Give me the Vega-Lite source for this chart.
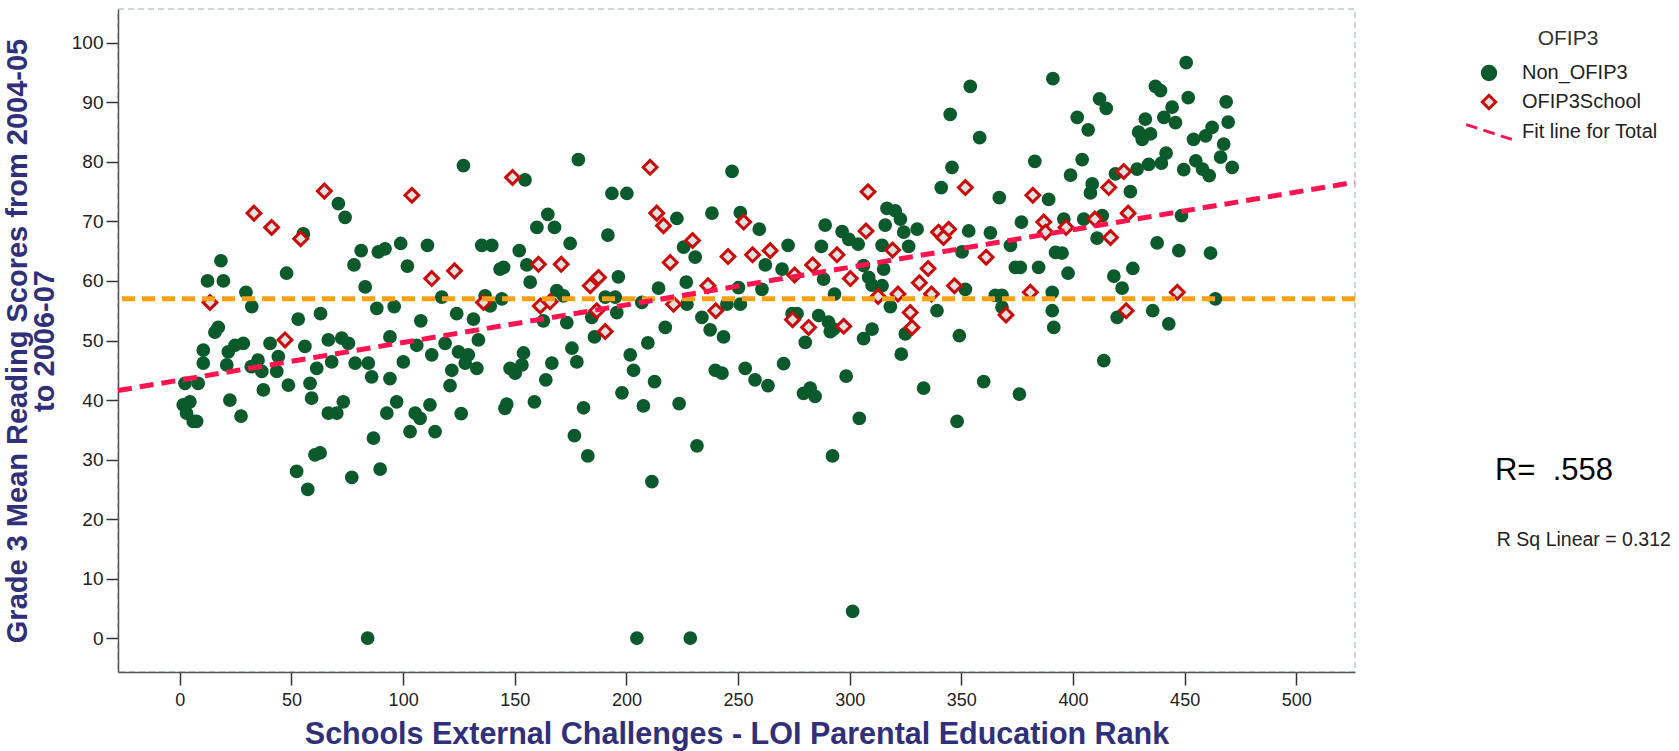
{
  "$schema": "https://vega.github.io/schema/vega-lite/v6.json",
  "width": 1237,
  "height": 663,
  "autosize": {"type": "none"},
  "padding": {"left": 118, "top": 9, "right": 324, "bottom": 79},
  "background": "white",
  "config": {
    "font": "Liberation Sans",
    "view": {"stroke": "#b5cdc4", "strokeDash": [6, 4], "strokeWidth": 1.5},
    "legend": {
      "orient": "none",
      "legendX": 1361,
      "legendY": 19,
      "titleFontSize": 21,
      "titleFontWeight": "normal",
      "titleColor": "#333333",
      "titleAnchor": "middle",
      "titlePadding": 14,
      "labelFontSize": 20,
      "labelColor": "#222222",
      "symbolSize": 180,
      "symbolStrokeWidth": 3,
      "labelOffset": 23,
      "rowPadding": 3,
      "padding": 0
    }
  },
  "datasets": {
    "pts": [
      {"rank":18.4,"score":63.4,"group":"Non_OFIP3"},{"rank":12.4,"score":60,"group":"Non_OFIP3"},{"rank":19.5,"score":60,"group":"Non_OFIP3"},{"rank":29.6,"score":58.1,"group":"Non_OFIP3"},{"rank":32.2,"score":55.7,"group":"Non_OFIP3"},{"rank":47.8,"score":61.3,"group":"Non_OFIP3"},{"rank":53,"score":53.6,"group":"Non_OFIP3"},{"rank":63,"score":54.5,"group":"Non_OFIP3"},{"rank":71,"score":73,"group":"Non_OFIP3"},{"rank":74,"score":70.7,"group":"Non_OFIP3"},{"rank":81.2,"score":65.1,"group":"Non_OFIP3"},{"rank":78,"score":62.7,"group":"Non_OFIP3"},{"rank":88.9,"score":64.9,"group":"Non_OFIP3"},{"rank":91.9,"score":65.4,"group":"Non_OFIP3"},{"rank":98.9,"score":66.3,"group":"Non_OFIP3"},{"rank":101.9,"score":62.5,"group":"Non_OFIP3"},{"rank":110.9,"score":66,"group":"Non_OFIP3"},{"rank":83,"score":59,"group":"Non_OFIP3"},{"rank":88.2,"score":55.4,"group":"Non_OFIP3"},{"rank":96,"score":55.7,"group":"Non_OFIP3"},{"rank":107.9,"score":53.3,"group":"Non_OFIP3"},{"rank":55.3,"score":67.9,"group":"Non_OFIP3"},{"rank":15.7,"score":51.4,"group":"Non_OFIP3"},{"rank":17.2,"score":52.2,"group":"Non_OFIP3"},
      {"rank":10.5,"score":48.4,"group":"Non_OFIP3"},{"rank":10.5,"score":46.2,"group":"Non_OFIP3"},{"rank":2.3,"score":42.8,"group":"Non_OFIP3"},{"rank":8.2,"score":42.8,"group":"Non_OFIP3"},{"rank":1.5,"score":39.2,"group":"Non_OFIP3"},{"rank":4.5,"score":39.7,"group":"Non_OFIP3"},{"rank":3,"score":37.8,"group":"Non_OFIP3"},{"rank":6,"score":36.4,"group":"Non_OFIP3"},{"rank":7.5,"score":36.4,"group":"Non_OFIP3"},{"rank":21.7,"score":48.1,"group":"Non_OFIP3"},{"rank":24.7,"score":49.2,"group":"Non_OFIP3"},{"rank":28.4,"score":49.5,"group":"Non_OFIP3"},{"rank":21,"score":45.9,"group":"Non_OFIP3"},{"rank":22.4,"score":40,"group":"Non_OFIP3"},{"rank":27.4,"score":37.3,"group":"Non_OFIP3"},{"rank":35,"score":46.7,"group":"Non_OFIP3"},{"rank":32,"score":45.6,"group":"Non_OFIP3"},{"rank":36.7,"score":44.8,"group":"Non_OFIP3"},{"rank":43.4,"score":44.8,"group":"Non_OFIP3"},{"rank":37.4,"score":41.7,"group":"Non_OFIP3"},{"rank":40.4,"score":49.5,"group":"Non_OFIP3"},{"rank":44.1,"score":47.3,"group":"Non_OFIP3"},{"rank":48.6,"score":42.5,"group":"Non_OFIP3"},{"rank":56,"score":49,"group":"Non_OFIP3"},{"rank":58.3,"score":42.8,"group":"Non_OFIP3"},{"rank":59,"score":40.3,"group":"Non_OFIP3"},{"rank":61.3,"score":45.3,"group":"Non_OFIP3"},{"rank":66.5,"score":50.1,"group":"Non_OFIP3"},{"rank":72.5,"score":50.4,"group":"Non_OFIP3"},{"rank":75.5,"score":49.5,"group":"Non_OFIP3"},{"rank":68,"score":46.4,"group":"Non_OFIP3"},{"rank":78.5,"score":46.2,"group":"Non_OFIP3"},{"rank":84.4,"score":46.2,"group":"Non_OFIP3"},{"rank":85.9,"score":43.9,"group":"Non_OFIP3"},{"rank":94.1,"score":50.6,"group":"Non_OFIP3"},{"rank":94.1,"score":43.6,"group":"Non_OFIP3"},{"rank":100.1,"score":46.4,"group":"Non_OFIP3"},{"rank":106.1,"score":49.2,"group":"Non_OFIP3"},{"rank":112.8,"score":47.6,"group":"Non_OFIP3"},{"rank":73.2,"score":39.7,"group":"Non_OFIP3"},{"rank":66.5,"score":37.8,"group":"Non_OFIP3"},{"rank":70.3,"score":37.8,"group":"Non_OFIP3"},{"rank":97.1,"score":39.7,"group":"Non_OFIP3"},{"rank":92.7,"score":37.8,"group":"Non_OFIP3"},{"rank":105.4,"score":37.8,"group":"Non_OFIP3"},{"rank":107.6,"score":36.9,"group":"Non_OFIP3"},{"rank":112,"score":39.2,"group":"Non_OFIP3"},{"rank":103.1,"score":34.7,"group":"Non_OFIP3"},{"rank":114.3,"score":34.7,"group":"Non_OFIP3"},{"rank":86.7,"score":33.6,"group":"Non_OFIP3"},{"rank":60.5,"score":30.8,"group":"Non_OFIP3"},{"rank":62.8,"score":31.1,"group":"Non_OFIP3"},{"rank":52.3,"score":28,"group":"Non_OFIP3"},{"rank":57.3,"score":25,"group":"Non_OFIP3"},{"rank":77,"score":27,"group":"Non_OFIP3"},{"rank":89.7,"score":28.4,"group":"Non_OFIP3"},{"rank":84.1,"score":0,"group":"Non_OFIP3"},
      {"rank":127,"score":79.4,"group":"Non_OFIP3"},{"rank":154.6,"score":77,"group":"Non_OFIP3"},{"rank":178.5,"score":80.4,"group":"Non_OFIP3"},{"rank":247.3,"score":78.4,"group":"Non_OFIP3"},{"rank":193.5,"score":74.7,"group":"Non_OFIP3"},{"rank":200.2,"score":74.7,"group":"Non_OFIP3"},{"rank":135.2,"score":66,"group":"Non_OFIP3"},{"rank":139.7,"score":66,"group":"Non_OFIP3"},{"rank":164.8,"score":71.2,"group":"Non_OFIP3"},{"rank":159.9,"score":69,"group":"Non_OFIP3"},{"rank":167.8,"score":69,"group":"Non_OFIP3"},{"rank":191.7,"score":67.7,"group":"Non_OFIP3"},{"rank":174.8,"score":66.3,"group":"Non_OFIP3"},{"rank":238.3,"score":71.4,"group":"Non_OFIP3"},{"rank":251,"score":71.5,"group":"Non_OFIP3"},{"rank":222.6,"score":70.5,"group":"Non_OFIP3"},{"rank":152,"score":65.1,"group":"Non_OFIP3"},{"rank":145,"score":62.3,"group":"Non_OFIP3"},{"rank":143.4,"score":62,"group":"Non_OFIP3"},{"rank":155.4,"score":62.7,"group":"Non_OFIP3"},{"rank":156.9,"score":59.8,"group":"Non_OFIP3"},{"rank":196.4,"score":60.7,"group":"Non_OFIP3"},{"rank":214.4,"score":58.8,"group":"Non_OFIP3"},{"rank":226.8,"score":59.8,"group":"Non_OFIP3"},{"rank":225.6,"score":65.7,"group":"Non_OFIP3"},{"rank":230.8,"score":64,"group":"Non_OFIP3"},{"rank":117.3,"score":57.3,"group":"Non_OFIP3"},{"rank":136.7,"score":57.5,"group":"Non_OFIP3"},{"rank":144.2,"score":57,"group":"Non_OFIP3"},{"rank":139,"score":55.8,"group":"Non_OFIP3"},{"rank":168.8,"score":58.4,"group":"Non_OFIP3"},{"rank":171.8,"score":57.5,"group":"Non_OFIP3"},{"rank":190.5,"score":57.3,"group":"Non_OFIP3"},{"rank":195,"score":57.3,"group":"Non_OFIP3"},{"rank":124,"score":54.5,"group":"Non_OFIP3"},{"rank":131.5,"score":53.6,"group":"Non_OFIP3"},{"rank":173.3,"score":53,"group":"Non_OFIP3"},{"rank":162.8,"score":53.3,"group":"Non_OFIP3"},{"rank":184.5,"score":53.9,"group":"Non_OFIP3"},{"rank":195.7,"score":54.7,"group":"Non_OFIP3"},{"rank":206.9,"score":56.4,"group":"Non_OFIP3"},{"rank":227.1,"score":56.1,"group":"Non_OFIP3"},{"rank":233.8,"score":53.9,"group":"Non_OFIP3"},{"rank":245,"score":56.1,"group":"Non_OFIP3"},{"rank":251,"score":56.1,"group":"Non_OFIP3"},{"rank":250.2,"score":58.9,"group":"Non_OFIP3"},
      {"rank":121.8,"score":45,"group":"Non_OFIP3"},{"rank":121,"score":42.4,"group":"Non_OFIP3"},{"rank":126,"score":37.7,"group":"Non_OFIP3"},{"rank":118.8,"score":49.5,"group":"Non_OFIP3"},{"rank":124.8,"score":48.1,"group":"Non_OFIP3"},{"rank":129.2,"score":47.6,"group":"Non_OFIP3"},{"rank":127.8,"score":46.2,"group":"Non_OFIP3"},{"rank":133,"score":45.3,"group":"Non_OFIP3"},{"rank":133.7,"score":50.1,"group":"Non_OFIP3"},{"rank":147.9,"score":45.3,"group":"Non_OFIP3"},{"rank":150.2,"score":44.5,"group":"Non_OFIP3"},{"rank":153.2,"score":45.9,"group":"Non_OFIP3"},{"rank":153.9,"score":47.9,"group":"Non_OFIP3"},{"rank":166.6,"score":46.2,"group":"Non_OFIP3"},{"rank":163.9,"score":43.4,"group":"Non_OFIP3"},{"rank":146.4,"score":39.3,"group":"Non_OFIP3"},{"rank":145.6,"score":38.6,"group":"Non_OFIP3"},{"rank":158.8,"score":39.7,"group":"Non_OFIP3"},{"rank":175.6,"score":48.7,"group":"Non_OFIP3"},{"rank":177.8,"score":46.4,"group":"Non_OFIP3"},{"rank":180.8,"score":38.7,"group":"Non_OFIP3"},{"rank":176.7,"score":34,"group":"Non_OFIP3"},{"rank":182.7,"score":30.6,"group":"Non_OFIP3"},{"rank":185.7,"score":50.6,"group":"Non_OFIP3"},{"rank":201.7,"score":47.6,"group":"Non_OFIP3"},{"rank":203.2,"score":45,"group":"Non_OFIP3"},{"rank":198,"score":41.2,"group":"Non_OFIP3"},{"rank":209.6,"score":49.6,"group":"Non_OFIP3"},{"rank":212.6,"score":43.1,"group":"Non_OFIP3"},{"rank":207.6,"score":39,"group":"Non_OFIP3"},{"rank":223.6,"score":39.4,"group":"Non_OFIP3"},{"rank":231.6,"score":32.3,"group":"Non_OFIP3"},{"rank":211.4,"score":26.3,"group":"Non_OFIP3"},{"rank":237.5,"score":51.8,"group":"Non_OFIP3"},{"rank":243.5,"score":50.6,"group":"Non_OFIP3"},{"rank":239.8,"score":45,"group":"Non_OFIP3"},{"rank":242.8,"score":44.5,"group":"Non_OFIP3"},{"rank":253.2,"score":45.3,"group":"Non_OFIP3"},{"rank":204.7,"score":0,"group":"Non_OFIP3"},{"rank":228.6,"score":0,"group":"Non_OFIP3"},{"rank":217.4,"score":52.2,"group":"Non_OFIP3"},
      {"rank":354,"score":92.7,"group":"Non_OFIP3"},{"rank":345,"score":88,"group":"Non_OFIP3"},{"rank":358.2,"score":84.1,"group":"Non_OFIP3"},{"rank":391,"score":94,"group":"Non_OFIP3"},{"rank":345.8,"score":79.1,"group":"Non_OFIP3"},{"rank":382.9,"score":80.1,"group":"Non_OFIP3"},{"rank":341,"score":75.7,"group":"Non_OFIP3"},{"rank":367,"score":74,"group":"Non_OFIP3"},{"rank":389.1,"score":73.7,"group":"Non_OFIP3"},{"rank":259.5,"score":68.7,"group":"Non_OFIP3"},{"rank":289,"score":69.4,"group":"Non_OFIP3"},{"rank":316.7,"score":72.2,"group":"Non_OFIP3"},{"rank":320.4,"score":71.8,"group":"Non_OFIP3"},{"rank":322.7,"score":70.4,"group":"Non_OFIP3"},{"rank":315.9,"score":69.4,"group":"Non_OFIP3"},{"rank":296.6,"score":68.3,"group":"Non_OFIP3"},{"rank":299.6,"score":67,"group":"Non_OFIP3"},{"rank":303.8,"score":66.2,"group":"Non_OFIP3"},{"rank":324.2,"score":68.2,"group":"Non_OFIP3"},{"rank":330.2,"score":68.7,"group":"Non_OFIP3"},{"rank":314.5,"score":66,"group":"Non_OFIP3"},{"rank":326.4,"score":65.8,"group":"Non_OFIP3"},{"rank":272.4,"score":66,"group":"Non_OFIP3"},{"rank":287.3,"score":65.8,"group":"Non_OFIP3"},{"rank":353.3,"score":68.4,"group":"Non_OFIP3"},{"rank":363,"score":68.1,"group":"Non_OFIP3"},{"rank":376.9,"score":69.9,"group":"Non_OFIP3"},{"rank":350.3,"score":64.9,"group":"Non_OFIP3"},{"rank":372,"score":66,"group":"Non_OFIP3"},{"rank":392.2,"score":64.8,"group":"Non_OFIP3"},{"rank":262.2,"score":62.7,"group":"Non_OFIP3"},{"rank":269.7,"score":62,"group":"Non_OFIP3"},{"rank":288.3,"score":60.3,"group":"Non_OFIP3"},{"rank":306.2,"score":62.6,"group":"Non_OFIP3"},{"rank":308.5,"score":60.6,"group":"Non_OFIP3"},{"rank":315.2,"score":62,"group":"Non_OFIP3"},{"rank":310,"score":59.3,"group":"Non_OFIP3"},{"rank":260.7,"score":58.6,"group":"Non_OFIP3"},{"rank":293.2,"score":57.8,"group":"Non_OFIP3"},{"rank":314.5,"score":59.2,"group":"Non_OFIP3"},{"rank":318.2,"score":55.7,"group":"Non_OFIP3"},{"rank":339.1,"score":55,"group":"Non_OFIP3"},{"rank":351.8,"score":58.6,"group":"Non_OFIP3"},{"rank":365.2,"score":57.6,"group":"Non_OFIP3"},{"rank":368.2,"score":57.6,"group":"Non_OFIP3"},{"rank":374.2,"score":62.3,"group":"Non_OFIP3"},{"rank":376.4,"score":62.3,"group":"Non_OFIP3"},{"rank":384.6,"score":62.3,"group":"Non_OFIP3"},{"rank":390.7,"score":58.1,"group":"Non_OFIP3"},{"rank":390.7,"score":55,"group":"Non_OFIP3"},{"rank":391.4,"score":52.2,"group":"Non_OFIP3"},{"rank":368.2,"score":55.6,"group":"Non_OFIP3"},{"rank":274.2,"score":54.5,"group":"Non_OFIP3"},{"rank":276.4,"score":54.5,"group":"Non_OFIP3"},{"rank":286.1,"score":54.2,"group":"Non_OFIP3"},{"rank":290.5,"score":53.1,"group":"Non_OFIP3"},{"rank":292.8,"score":51.9,"group":"Non_OFIP3"},{"rank":280.1,"score":49.7,"group":"Non_OFIP3"},{"rank":306.2,"score":50.3,"group":"Non_OFIP3"},{"rank":310,"score":51.9,"group":"Non_OFIP3"},{"rank":324.9,"score":51.1,"group":"Non_OFIP3"},{"rank":349.1,"score":50.8,"group":"Non_OFIP3"},
      {"rank":291.3,"score":51.5,"group":"Non_OFIP3"},{"rank":323.1,"score":47.7,"group":"Non_OFIP3"},{"rank":257.6,"score":43.4,"group":"Non_OFIP3"},{"rank":263.4,"score":42.4,"group":"Non_OFIP3"},{"rank":270.4,"score":46.1,"group":"Non_OFIP3"},{"rank":279.3,"score":41.1,"group":"Non_OFIP3"},{"rank":282.3,"score":42,"group":"Non_OFIP3"},{"rank":284.5,"score":40.6,"group":"Non_OFIP3"},{"rank":298.4,"score":44,"group":"Non_OFIP3"},{"rank":333.1,"score":42,"group":"Non_OFIP3"},{"rank":360,"score":43.1,"group":"Non_OFIP3"},{"rank":376,"score":41,"group":"Non_OFIP3"},{"rank":304.3,"score":36.9,"group":"Non_OFIP3"},{"rank":348.1,"score":36.4,"group":"Non_OFIP3"},{"rank":292.3,"score":30.6,"group":"Non_OFIP3"},{"rank":301.3,"score":4.5,"group":"Non_OFIP3"},
      {"rank":450.7,"score":96.7,"group":"Non_OFIP3"},{"rank":436.9,"score":92.7,"group":"Non_OFIP3"},{"rank":439.2,"score":92,"group":"Non_OFIP3"},{"rank":451.6,"score":90.8,"group":"Non_OFIP3"},{"rank":468.6,"score":90.1,"group":"Non_OFIP3"},{"rank":411.9,"score":90.6,"group":"Non_OFIP3"},{"rank":414.9,"score":89,"group":"Non_OFIP3"},{"rank":401.9,"score":87.5,"group":"Non_OFIP3"},{"rank":406.8,"score":85.4,"group":"Non_OFIP3"},{"rank":432.4,"score":87.2,"group":"Non_OFIP3"},{"rank":440.7,"score":87.5,"group":"Non_OFIP3"},{"rank":444.4,"score":89.2,"group":"Non_OFIP3"},{"rank":445.9,"score":86.6,"group":"Non_OFIP3"},{"rank":469.5,"score":86.7,"group":"Non_OFIP3"},{"rank":429.4,"score":85,"group":"Non_OFIP3"},{"rank":431,"score":83.8,"group":"Non_OFIP3"},{"rank":434.7,"score":84.7,"group":"Non_OFIP3"},{"rank":462.3,"score":85.8,"group":"Non_OFIP3"},{"rank":459.4,"score":84.4,"group":"Non_OFIP3"},{"rank":454,"score":83.8,"group":"Non_OFIP3"},{"rank":467.5,"score":83,"group":"Non_OFIP3"},{"rank":404.1,"score":80.4,"group":"Non_OFIP3"},{"rank":441.7,"score":81.5,"group":"Non_OFIP3"},{"rank":439.6,"score":79.8,"group":"Non_OFIP3"},{"rank":433.9,"score":79.6,"group":"Non_OFIP3"},{"rank":428.7,"score":78.8,"group":"Non_OFIP3"},{"rank":449.6,"score":78.7,"group":"Non_OFIP3"},{"rank":455,"score":80.2,"group":"Non_OFIP3"},{"rank":458,"score":78.8,"group":"Non_OFIP3"},{"rank":461,"score":77.7,"group":"Non_OFIP3"},{"rank":466.1,"score":80.8,"group":"Non_OFIP3"},{"rank":471.3,"score":79.1,"group":"Non_OFIP3"},{"rank":398.9,"score":77.8,"group":"Non_OFIP3"},{"rank":425.7,"score":75,"group":"Non_OFIP3"},{"rank":408.6,"score":76.3,"group":"Non_OFIP3"},{"rank":407.8,"score":74.8,"group":"Non_OFIP3"},{"rank":419,"score":78,"group":"Non_OFIP3"},{"rank":395.9,"score":70.4,"group":"Non_OFIP3"},{"rank":404.8,"score":70.4,"group":"Non_OFIP3"},{"rank":413.1,"score":71,"group":"Non_OFIP3"},{"rank":448.6,"score":71,"group":"Non_OFIP3"},{"rank":410.8,"score":67.2,"group":"Non_OFIP3"},{"rank":437.7,"score":66.4,"group":"Non_OFIP3"},{"rank":447.4,"score":65.1,"group":"Non_OFIP3"},{"rank":461.6,"score":64.7,"group":"Non_OFIP3"},{"rank":395.1,"score":64.7,"group":"Non_OFIP3"},{"rank":397.8,"score":61.3,"group":"Non_OFIP3"},{"rank":418.3,"score":60.8,"group":"Non_OFIP3"},{"rank":426.8,"score":62.1,"group":"Non_OFIP3"},{"rank":422,"score":58.8,"group":"Non_OFIP3"},{"rank":419.8,"score":53.9,"group":"Non_OFIP3"},{"rank":435.7,"score":55,"group":"Non_OFIP3"},{"rank":442.9,"score":52.8,"group":"Non_OFIP3"},{"rank":463.8,"score":57,"group":"Non_OFIP3"},{"rank":413.8,"score":46.6,"group":"Non_OFIP3"},
      {"rank":13.5,"score":56.4,"group":"OFIP3School"},{"rank":33.2,"score":71.4,"group":"OFIP3School"},{"rank":41.1,"score":69,"group":"OFIP3School"},{"rank":54.1,"score":67.1,"group":"OFIP3School"},{"rank":64.7,"score":75.1,"group":"OFIP3School"},{"rank":103.9,"score":74.4,"group":"OFIP3School"},{"rank":112.8,"score":60.4,"group":"OFIP3School"},{"rank":47.1,"score":50.1,"group":"OFIP3School"},
      {"rank":149,"score":77.4,"group":"OFIP3School"},{"rank":210.6,"score":79.1,"group":"OFIP3School"},{"rank":213.6,"score":71.4,"group":"OFIP3School"},{"rank":216.6,"score":69.3,"group":"OFIP3School"},{"rank":229.6,"score":66.8,"group":"OFIP3School"},{"rank":245.5,"score":64.1,"group":"OFIP3School"},{"rank":219.6,"score":63.1,"group":"OFIP3School"},{"rank":123,"score":61.7,"group":"OFIP3School"},{"rank":160.6,"score":62.8,"group":"OFIP3School"},{"rank":170.8,"score":62.8,"group":"OFIP3School"},{"rank":187.5,"score":60.6,"group":"OFIP3School"},{"rank":183.8,"score":59.2,"group":"OFIP3School"},{"rank":236.5,"score":59.2,"group":"OFIP3School"},{"rank":136,"score":56.4,"group":"OFIP3School"},{"rank":161.4,"score":55.8,"group":"OFIP3School"},{"rank":165.8,"score":56.5,"group":"OFIP3School"},{"rank":186.7,"score":55,"group":"OFIP3School"},{"rank":221.1,"score":56.1,"group":"OFIP3School"},{"rank":240,"score":55,"group":"OFIP3School"},{"rank":190.5,"score":51.5,"group":"OFIP3School"},{"rank":252.5,"score":69.9,"group":"OFIP3School"},
      {"rank":308.2,"score":75,"group":"OFIP3School"},{"rank":351.8,"score":75.7,"group":"OFIP3School"},{"rank":382,"score":74.4,"group":"OFIP3School"},{"rank":307.3,"score":68.4,"group":"OFIP3School"},{"rank":339.8,"score":68.2,"group":"OFIP3School"},{"rank":344.3,"score":68.7,"group":"OFIP3School"},{"rank":342,"score":67.3,"group":"OFIP3School"},{"rank":386.9,"score":69.9,"group":"OFIP3School"},{"rank":387.7,"score":68.2,"group":"OFIP3School"},{"rank":256.5,"score":64.4,"group":"OFIP3School"},{"rank":264.4,"score":65.1,"group":"OFIP3School"},{"rank":294.3,"score":64.4,"group":"OFIP3School"},{"rank":319.2,"score":65.2,"group":"OFIP3School"},{"rank":283.4,"score":62.7,"group":"OFIP3School"},{"rank":275.3,"score":61,"group":"OFIP3School"},{"rank":361.1,"score":64,"group":"OFIP3School"},{"rank":335.1,"score":62.1,"group":"OFIP3School"},{"rank":300.3,"score":60.4,"group":"OFIP3School"},{"rank":331.2,"score":59.7,"group":"OFIP3School"},{"rank":346.9,"score":59.2,"group":"OFIP3School"},{"rank":336.6,"score":57.8,"group":"OFIP3School"},{"rank":312.7,"score":57.4,"group":"OFIP3School"},{"rank":321.6,"score":57.8,"group":"OFIP3School"},{"rank":380.9,"score":58.1,"group":"OFIP3School"},{"rank":327.1,"score":54.7,"group":"OFIP3School"},{"rank":327.9,"score":52.2,"group":"OFIP3School"},{"rank":274.4,"score":53.5,"group":"OFIP3School"},{"rank":281.6,"score":52.2,"group":"OFIP3School"},{"rank":297.3,"score":52.4,"group":"OFIP3School"},{"rank":370,"score":54.3,"group":"OFIP3School"},
      {"rank":422.7,"score":78.4,"group":"OFIP3School"},{"rank":416,"score":75.7,"group":"OFIP3School"},{"rank":424.7,"score":71.4,"group":"OFIP3School"},{"rank":409.8,"score":70.4,"group":"OFIP3School"},{"rank":396.9,"score":69,"group":"OFIP3School"},{"rank":416.8,"score":67.3,"group":"OFIP3School"},{"rank":446.7,"score":58.1,"group":"OFIP3School"},{"rank":423.8,"score":55,"group":"OFIP3School"}
    ]
  },
  "layer": [
    {
      "data": {"name": "pts"},
      "transform": [{"filter": "datum.group === 'Non_OFIP3'"}],
      "mark": {"type": "point", "filled": true, "opacity": 1, "size": 150, "strokeWidth": 1.5},
      "encoding": {
        "x": {
          "field": "rank", "type": "quantitative",
          "scale": {"domain": [-27.7, 526.3], "nice": false, "zero": false},
          "axis": {
            "title": "Schools External Challenges - LOI Parental Education Rank",
            "values": [0, 50, 100, 150, 200, 250, 300, 350, 400, 450, 500],
            "grid": false, "tickSize": 13, "tickWidth": 1.5, "tickColor": "#333333",
            "domainColor": "#555555", "domainWidth": 1.5,
            "labelFontSize": 18, "labelColor": "#222222", "labelPadding": 6,
            "labelFlush": false, "labelOverlap": false,
            "titleFontSize": 30.5, "titleFontWeight": "bold", "titleColor": "#30307a", "titlePadding": 10
          }
        },
        "y": {
          "field": "score", "type": "quantitative",
          "scale": {"domain": [-5.7, 105.7], "nice": false, "zero": false},
          "axis": {
            "title": ["Grade 3 Mean Reading Scores  from 2004-05", "to 2006-07"],
            "values": [0, 10, 20, 30, 40, 50, 60, 70, 80, 90, 100],
            "grid": false, "tickSize": 12, "tickWidth": 1.5, "tickColor": "#333333",
            "domainColor": "#555555", "domainWidth": 1.5,
            "labelFontSize": 19, "labelColor": "#222222", "labelPadding": 3,
            "labelOverlap": false,
            "titleFontSize": 29, "titleFontWeight": "bold", "titleColor": "#30307a", "titlePadding": 12, "titleLineHeight": 27
          }
        },
        "shape": {
          "field": "group", "type": "nominal", "title": "OFIP3",
          "scale": {"domain": ["Non_OFIP3", "OFIP3School", "Fit line for Total"], "range": ["circle", "diamond", "M-3.4,-1.1L-1.75,-0.57M-0.85,-0.28L0.85,0.28M1.75,0.57L3.4,1.1"]}
        },
        "fill": {
          "field": "group", "type": "nominal", "title": "OFIP3",
          "scale": {"domain": ["Non_OFIP3", "OFIP3School", "Fit line for Total"], "range": ["#0b5a2b", "#e2e2e2", "transparent"]}
        },
        "stroke": {
          "field": "group", "type": "nominal", "title": "OFIP3",
          "scale": {"domain": ["Non_OFIP3", "OFIP3School", "Fit line for Total"], "range": ["#0b5a2b", "#cc0a0a", "#ff1450"]}
        }
      }
    },
    {
      "data": {"name": "pts"},
      "transform": [{"filter": "datum.group === 'OFIP3School'"}],
      "mark": {"type": "point", "filled": true, "opacity": 1, "size": 190, "strokeWidth": 3},
      "encoding": {
        "x": {"field": "rank", "type": "quantitative"},
        "y": {"field": "score", "type": "quantitative"},
        "shape": {"field": "group", "type": "nominal", "title": "OFIP3"},
        "fill": {"field": "group", "type": "nominal", "title": "OFIP3"},
        "stroke": {"field": "group", "type": "nominal", "title": "OFIP3"}
      }
    },
    {
      "data": {"values": [{"mean": 57}]},
      "mark": {"type": "rule", "color": "#f7a11a", "strokeWidth": 5, "strokeDash": [13, 7]},
      "encoding": {"y": {"field": "mean", "type": "quantitative"}}
    },
    {
      "data": {"values": [{"rank": -27.7, "score": 41.6}, {"rank": 526.3, "score": 76.6}]},
      "mark": {"type": "line", "color": "#ff1450", "strokeWidth": 5, "strokeDash": [14, 8]},
      "encoding": {
        "x": {"field": "rank", "type": "quantitative"},
        "y": {"field": "score", "type": "quantitative"}
      }
    },
    {
      "data": {"values": [{"label": "R=\u00a0 .558"}]},
      "mark": {"type": "text", "fontSize": 31, "color": "#000000", "align": "center", "baseline": "middle"},
      "encoding": {
        "x": {"datum": 615.4, "type": "quantitative"},
        "y": {"datum": 28, "type": "quantitative"},
        "text": {"field": "label", "type": "nominal"}
      }
    },
    {
      "data": {"values": [{"label": "R Sq Linear = 0.312"}]},
      "mark": {"type": "text", "fontSize": 19.5, "color": "#222222", "align": "center", "baseline": "middle"},
      "encoding": {
        "x": {"datum": 628.8, "type": "quantitative"},
        "y": {"datum": 16.5, "type": "quantitative"},
        "text": {"field": "label", "type": "nominal"}
      }
    }
  ]
}
